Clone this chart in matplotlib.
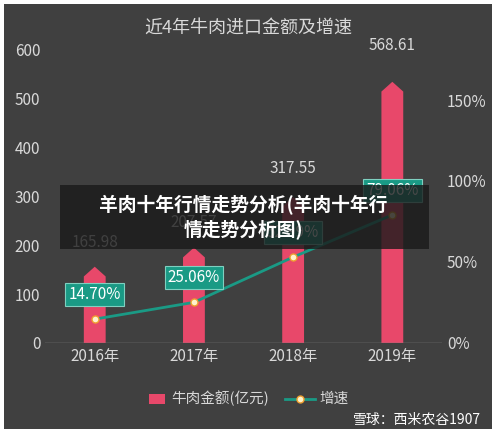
import matplotlib.pyplot as plt

plt.rcParams['font.family'] = ['Noto Sans CJK SC', 'DejaVu Sans']

years = ['2016年', '2017年', '2018年', '2019年']
amount = [165.98, 207.57, 317.55, 568.61]
growth = [14.70, 25.06, 52.99, 79.06]

bg = '#404040'
red = '#e8486a'
teal = '#1a9a85'
txt = '#d9d9d9'

fig = plt.figure(figsize=(4.96, 4.33), dpi=100, facecolor='white')
fig.patches.append(plt.Rectangle((0.008, 0.01), 0.984, 0.98, transform=fig.transFigure,
                                 facecolor=bg, edgecolor='none', zorder=-1))
ax = fig.add_axes([0.091, 0.208, 0.80, 0.677])
ax.set_facecolor(bg)
x = list(range(len(years)))

# bars with pointed tops
hw = 0.11
for i, a in enumerate(amount):
    top = a * 0.94
    ax.fill([i - hw, i - hw, i, i + hw, i + hw], [0, top - 20, top, top - 20, 0],
            color=red, zorder=2, lw=0)
    ax.text(i, a + 22, '%.2f' % a, ha='center', va='bottom', color=txt, fontsize=11)

ax.set_ylim(0, 600)
ax.set_xlim(-0.5, 3.5)
ax.set_yticks(range(0, 601, 100))
ax.set_xticks(x)
ax.set_xticklabels(years)
ax.axhline(0, color='#8c8c8c', lw=1)
for s in ax.spines.values():
    s.set_visible(False)
ax.tick_params(colors=txt, labelsize=11, length=0)

ax2 = ax.twinx()
ax2.set_ylim(0, 181)
ax2.set_yticks([0, 50, 100, 150])
ax2.set_yticklabels(['0%', '50%', '100%', '150%'])
ax2.tick_params(colors=txt, labelsize=11, length=0)
for s in ax2.spines.values():
    s.set_visible(False)
ax2.plot(x, growth, color=teal, lw=2, marker='o', ms=5, mfc='#fff2cc', mec='#f0a030',
         zorder=3)
for i, g in enumerate(growth):
    ax2.text(i, g + 10, '%.2f%%' % g, ha='center', va='bottom',
             color='white', fontsize=11,
             bbox=dict(boxstyle='square,pad=0.2', fc=teal, ec='#7fd0c0', lw=0.8), zorder=4)

fig.text(0.5, 0.935, '近4年牛肉进口金额及增速', ha='center', va='center', color=txt, fontsize=13)

# legend
fig.patches.append(plt.Rectangle((0.30, 0.068), 0.033, 0.022, transform=fig.transFigure,
                                 facecolor=red, edgecolor='none'))
fig.text(0.345, 0.079, '牛肉金额(亿元)', color=txt, fontsize=10.5, va='center')
fig.lines.append(plt.Line2D([0.575, 0.635], [0.079, 0.079], transform=fig.transFigure,
                            color=teal, lw=2))
fig.lines.append(plt.Line2D([0.605], [0.079], transform=fig.transFigure, ls='none',
                            marker='o', ms=5, mfc='#fff2cc', mec='#f0a030'))
fig.text(0.645, 0.079, '增速', color=txt, fontsize=10.5, va='center')

# overlay banner
fig.patches.append(plt.Rectangle((0.12, 0.425), 0.745, 0.148, transform=fig.transFigure,
                                 facecolor='#1a1a1a', alpha=0.8, edgecolor='none', zorder=5))
fig.text(0.49, 0.499, '羊肉十年行情走势分析(羊肉十年行\n情走势分析图)', ha='center', va='center',
         color='white', fontsize=13.5, fontweight='bold', linespacing=1.3, zorder=6)

fig.text(0.97, 0.03, '雪球：西米农谷1907', ha='right', va='center', color='white', fontsize=10)

fig.savefig('out.png', dpi=100, facecolor='white')
